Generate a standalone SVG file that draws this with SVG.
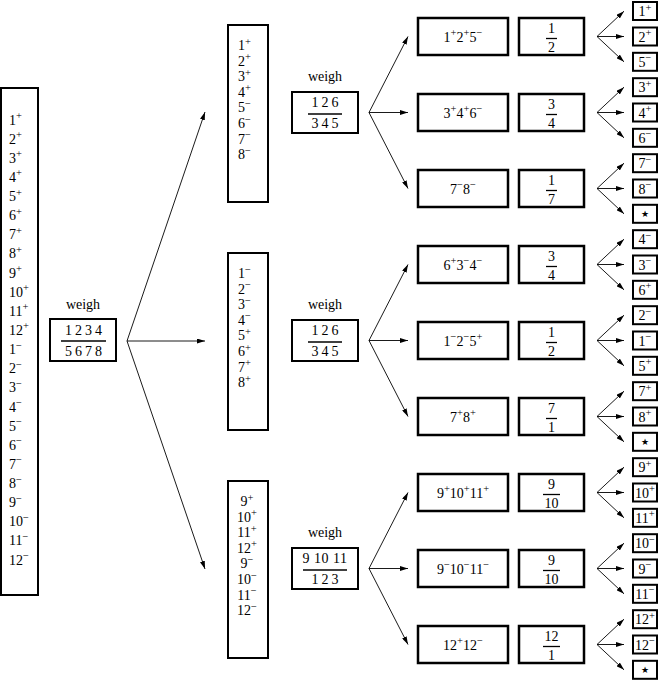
<svg xmlns="http://www.w3.org/2000/svg" width="661" height="683" viewBox="0 0 661 683" font-family="'Liberation Serif', serif">
<defs>
<marker id="ah" markerWidth="8" markerHeight="5" refX="8" refY="2.5" orient="auto" markerUnits="userSpaceOnUse"><path d="M0,0 L8,2.5 L0,5 z" fill="#000"/></marker>
</defs>
<style>
text{font-family:'Liberation Serif','Times New Roman',serif;font-size:14px;fill:#000}
.s{font-size:10.5px}
.c{text-anchor:middle}
.box{fill:#fff;stroke:#000;stroke-width:2}
.bx{fill:#fff;stroke:#000;stroke-width:2.5}
.fl{stroke:#000;stroke-width:1.3}
.star{font-family:'DejaVu Sans',sans-serif;font-size:9px}
.sp{letter-spacing:3px}
</style>
<rect width="661" height="683" fill="#fff"/>
<g id="connectors" fill="none" stroke="#000" stroke-width="0.9">
<line x1="127" y1="341" x2="205" y2="112" marker-end="url(#ah)"/>
<line x1="127" y1="341" x2="205" y2="341" marker-end="url(#ah)"/>
<line x1="127" y1="341" x2="205" y2="569" marker-end="url(#ah)"/>
<line x1="369" y1="112.5" x2="408" y2="36.5" marker-end="url(#ah)"/>
<line x1="369" y1="112.5" x2="408" y2="112.5" marker-end="url(#ah)"/>
<line x1="369" y1="112.5" x2="408" y2="188.5" marker-end="url(#ah)"/>
<line x1="369" y1="340.5" x2="408" y2="264.5" marker-end="url(#ah)"/>
<line x1="369" y1="340.5" x2="408" y2="340.5" marker-end="url(#ah)"/>
<line x1="369" y1="340.5" x2="408" y2="416.5" marker-end="url(#ah)"/>
<line x1="369" y1="568.5" x2="408" y2="492.5" marker-end="url(#ah)"/>
<line x1="369" y1="568.5" x2="408" y2="568.5" marker-end="url(#ah)"/>
<line x1="369" y1="568.5" x2="408" y2="644.5" marker-end="url(#ah)"/>
<line x1="597" y1="36.5" x2="624" y2="11.2" marker-end="url(#ah)"/><line x1="597" y1="36.5" x2="624" y2="36.5" marker-end="url(#ah)"/><line x1="597" y1="36.5" x2="624" y2="61.8" marker-end="url(#ah)"/>
<line x1="597" y1="112.5" x2="624" y2="87.2" marker-end="url(#ah)"/><line x1="597" y1="112.5" x2="624" y2="112.5" marker-end="url(#ah)"/><line x1="597" y1="112.5" x2="624" y2="137.8" marker-end="url(#ah)"/>
<line x1="597" y1="188.5" x2="624" y2="163.2" marker-end="url(#ah)"/><line x1="597" y1="188.5" x2="624" y2="188.5" marker-end="url(#ah)"/><line x1="597" y1="188.5" x2="624" y2="213.8" marker-end="url(#ah)"/>
<line x1="597" y1="264.5" x2="624" y2="239.2" marker-end="url(#ah)"/><line x1="597" y1="264.5" x2="624" y2="264.5" marker-end="url(#ah)"/><line x1="597" y1="264.5" x2="624" y2="289.8" marker-end="url(#ah)"/>
<line x1="597" y1="340.5" x2="624" y2="315.2" marker-end="url(#ah)"/><line x1="597" y1="340.5" x2="624" y2="340.5" marker-end="url(#ah)"/><line x1="597" y1="340.5" x2="624" y2="365.8" marker-end="url(#ah)"/>
<line x1="597" y1="416.5" x2="624" y2="391.2" marker-end="url(#ah)"/><line x1="597" y1="416.5" x2="624" y2="416.5" marker-end="url(#ah)"/><line x1="597" y1="416.5" x2="624" y2="441.8" marker-end="url(#ah)"/>
<line x1="597" y1="492.5" x2="624" y2="467.2" marker-end="url(#ah)"/><line x1="597" y1="492.5" x2="624" y2="492.5" marker-end="url(#ah)"/><line x1="597" y1="492.5" x2="624" y2="517.8" marker-end="url(#ah)"/>
<line x1="597" y1="568.5" x2="624" y2="543.2" marker-end="url(#ah)"/><line x1="597" y1="568.5" x2="624" y2="568.5" marker-end="url(#ah)"/><line x1="597" y1="568.5" x2="624" y2="593.8" marker-end="url(#ah)"/>
<line x1="597" y1="644.5" x2="624" y2="619.2" marker-end="url(#ah)"/><line x1="597" y1="644.5" x2="624" y2="644.5" marker-end="url(#ah)"/><line x1="597" y1="644.5" x2="624" y2="669.8" marker-end="url(#ah)"/>
</g>
<g id="all12">
<rect class="box" x="1" y="88" width="37" height="507"/>
<text x="9" y="124.5">1<tspan class="s" dy="-5.5">+</tspan></text>
<text x="9" y="143.6">2<tspan class="s" dy="-5.5">+</tspan></text>
<text x="9" y="162.8">3<tspan class="s" dy="-5.5">+</tspan></text>
<text x="9" y="181.9">4<tspan class="s" dy="-5.5">+</tspan></text>
<text x="9" y="201">5<tspan class="s" dy="-5.5">+</tspan></text>
<text x="9" y="220.2">6<tspan class="s" dy="-5.5">+</tspan></text>
<text x="9" y="239.3">7<tspan class="s" dy="-5.5">+</tspan></text>
<text x="9" y="258.4">8<tspan class="s" dy="-5.5">+</tspan></text>
<text x="9" y="277.5">9<tspan class="s" dy="-5.5">+</tspan></text>
<text x="9" y="296.7">10<tspan class="s" dy="-5.5">+</tspan></text>
<text x="9" y="315.8">11<tspan class="s" dy="-5.5">+</tspan></text>
<text x="9" y="334.9">12<tspan class="s" dy="-5.5">+</tspan></text>
<text x="9" y="354.1">1<tspan class="s" dy="-5.5">−</tspan></text>
<text x="9" y="373.2">2<tspan class="s" dy="-5.5">−</tspan></text>
<text x="9" y="392.3">3<tspan class="s" dy="-5.5">−</tspan></text>
<text x="9" y="411.5">4<tspan class="s" dy="-5.5">−</tspan></text>
<text x="9" y="430.6">5<tspan class="s" dy="-5.5">−</tspan></text>
<text x="9" y="449.7">6<tspan class="s" dy="-5.5">−</tspan></text>
<text x="9" y="468.8">7<tspan class="s" dy="-5.5">−</tspan></text>
<text x="9" y="488">8<tspan class="s" dy="-5.5">−</tspan></text>
<text x="9" y="507.1">9<tspan class="s" dy="-5.5">−</tspan></text>
<text x="9" y="526.2">10<tspan class="s" dy="-5.5">−</tspan></text>
<text x="9" y="545.4">11<tspan class="s" dy="-5.5">−</tspan></text>
<text x="9" y="564.5">12<tspan class="s" dy="-5.5">−</tspan></text>
</g>
<g id="weigh1">
<text class="c" x="83" y="309">weigh</text>
<rect class="box" x="50" y="319" width="66" height="42"/>
<text class="c sp" x="85" y="335">1234</text>
<line class="fl" x1="61" y1="341" x2="106" y2="341"/>
<text class="c sp" x="85" y="356">5678</text>
</g>
<g id="set1">
<rect class="box" x="228" y="25" width="40" height="177"/>
<text x="238" y="50">1<tspan class="s" dy="-5.5">+</tspan></text>
<text x="238" y="65.6">2<tspan class="s" dy="-5.5">+</tspan></text>
<text x="238" y="81.2">3<tspan class="s" dy="-5.5">+</tspan></text>
<text x="238" y="96.8">4<tspan class="s" dy="-5.5">+</tspan></text>
<text x="238" y="112.4">5<tspan class="s" dy="-5.5">−</tspan></text>
<text x="238" y="128">6<tspan class="s" dy="-5.5">−</tspan></text>
<text x="238" y="143.6">7<tspan class="s" dy="-5.5">−</tspan></text>
<text x="238" y="159.2">8<tspan class="s" dy="-5.5">−</tspan></text>
</g>
<g id="set2">
<rect class="box" x="228" y="253" width="40" height="177"/>
<text x="238" y="278">1<tspan class="s" dy="-5.5">−</tspan></text>
<text x="238" y="293.6">2<tspan class="s" dy="-5.5">−</tspan></text>
<text x="238" y="309.2">3<tspan class="s" dy="-5.5">−</tspan></text>
<text x="238" y="324.8">4<tspan class="s" dy="-5.5">−</tspan></text>
<text x="238" y="340.4">5<tspan class="s" dy="-5.5">+</tspan></text>
<text x="238" y="356">6<tspan class="s" dy="-5.5">+</tspan></text>
<text x="238" y="371.6">7<tspan class="s" dy="-5.5">+</tspan></text>
<text x="238" y="387.2">8<tspan class="s" dy="-5.5">+</tspan></text>
</g>
<g id="set3">
<rect class="box" x="228" y="481" width="40" height="177"/>
<text class="c" x="247" y="506">9<tspan class="s" dy="-5.5">+</tspan></text>
<text class="c" x="247" y="521.6">10<tspan class="s" dy="-5.5">+</tspan></text>
<text class="c" x="247" y="537.2">11<tspan class="s" dy="-5.5">+</tspan></text>
<text class="c" x="247" y="552.8">12<tspan class="s" dy="-5.5">+</tspan></text>
<text class="c" x="247" y="568.4">9<tspan class="s" dy="-5.5">−</tspan></text>
<text class="c" x="247" y="584">10<tspan class="s" dy="-5.5">−</tspan></text>
<text class="c" x="247" y="599.6">11<tspan class="s" dy="-5.5">−</tspan></text>
<text class="c" x="247" y="615.2">12<tspan class="s" dy="-5.5">−</tspan></text>
</g>
<g id="weigh2">
<text class="c" x="325" y="81">weigh</text>
<rect class="box" x="292" y="92" width="66" height="41"/>
<text class="c sp" x="326.5" y="107">126</text>
<line class="fl" x1="308" y1="114" x2="342" y2="114"/>
<text class="c sp" x="326.5" y="128">345</text>
</g>
<g id="weigh3">
<text class="c" x="325" y="309">weigh</text>
<rect class="box" x="292" y="320" width="66" height="41"/>
<text class="c sp" x="326.5" y="335">126</text>
<line class="fl" x1="308" y1="342" x2="342" y2="342"/>
<text class="c sp" x="326.5" y="356">345</text>
</g>
<g id="weigh4">
<text class="c" x="325" y="537">weigh</text>
<rect class="box" x="292" y="548" width="66" height="41"/>
<text class="c" x="325" y="563" letter-spacing="0.5">9 10 11</text>
<line class="fl" x1="303" y1="570" x2="347" y2="570"/>
<text class="c sp" x="326.5" y="584">123</text>
</g>
<g id="c0"><rect class="bx" x="418" y="18" width="90" height="37"/><text class="c" x="463" y="41.5">1<tspan class="s" dy="-5.5">+</tspan><tspan dy="5.5">2</tspan><tspan class="s" dy="-5.5">+</tspan><tspan dy="5.5">5</tspan><tspan class="s" dy="-5.5">−</tspan></text></g>
<g id="f0"><rect class="bx" x="519" y="18" width="65" height="37"/><text class="c" x="551.5" y="33">1</text><line class="fl" x1="546" y1="38.5" x2="557" y2="38.5"/><text class="c" x="551.5" y="52">2</text></g>
<g id="c1"><rect class="bx" x="418" y="94" width="90" height="37"/><text class="c" x="463" y="117.5">3<tspan class="s" dy="-5.5">+</tspan><tspan dy="5.5">4</tspan><tspan class="s" dy="-5.5">+</tspan><tspan dy="5.5">6</tspan><tspan class="s" dy="-5.5">−</tspan></text></g>
<g id="f1"><rect class="bx" x="519" y="94" width="65" height="37"/><text class="c" x="551.5" y="109">3</text><line class="fl" x1="546" y1="114.5" x2="557" y2="114.5"/><text class="c" x="551.5" y="128">4</text></g>
<g id="c2"><rect class="bx" x="418" y="170" width="90" height="37"/><text class="c" x="463" y="193.5">7<tspan class="s" dy="-5.5">−</tspan><tspan dy="5.5">8</tspan><tspan class="s" dy="-5.5">−</tspan></text></g>
<g id="f2"><rect class="bx" x="519" y="170" width="65" height="37"/><text class="c" x="551.5" y="185">1</text><line class="fl" x1="546" y1="190.5" x2="557" y2="190.5"/><text class="c" x="551.5" y="204">7</text></g>
<g id="c3"><rect class="bx" x="418" y="246" width="90" height="37"/><text class="c" x="463" y="269.5">6<tspan class="s" dy="-5.5">+</tspan><tspan dy="5.5">3</tspan><tspan class="s" dy="-5.5">−</tspan><tspan dy="5.5">4</tspan><tspan class="s" dy="-5.5">−</tspan></text></g>
<g id="f3"><rect class="bx" x="519" y="246" width="65" height="37"/><text class="c" x="551.5" y="261">3</text><line class="fl" x1="546" y1="266.5" x2="557" y2="266.5"/><text class="c" x="551.5" y="280">4</text></g>
<g id="c4"><rect class="bx" x="418" y="322" width="90" height="37"/><text class="c" x="463" y="345.5">1<tspan class="s" dy="-5.5">−</tspan><tspan dy="5.5">2</tspan><tspan class="s" dy="-5.5">−</tspan><tspan dy="5.5">5</tspan><tspan class="s" dy="-5.5">+</tspan></text></g>
<g id="f4"><rect class="bx" x="519" y="322" width="65" height="37"/><text class="c" x="551.5" y="337">1</text><line class="fl" x1="546" y1="342.5" x2="557" y2="342.5"/><text class="c" x="551.5" y="356">2</text></g>
<g id="c5"><rect class="bx" x="418" y="398" width="90" height="37"/><text class="c" x="463" y="421.5">7<tspan class="s" dy="-5.5">+</tspan><tspan dy="5.5">8</tspan><tspan class="s" dy="-5.5">+</tspan></text></g>
<g id="f5"><rect class="bx" x="519" y="398" width="65" height="37"/><text class="c" x="551.5" y="413">7</text><line class="fl" x1="546" y1="418.5" x2="557" y2="418.5"/><text class="c" x="551.5" y="432">1</text></g>
<g id="c6"><rect class="bx" x="418" y="474" width="90" height="37"/><text class="c" x="463" y="497.5">9<tspan class="s" dy="-5.5">+</tspan><tspan dy="5.5">10</tspan><tspan class="s" dy="-5.5">+</tspan><tspan dy="5.5">11</tspan><tspan class="s" dy="-5.5">+</tspan></text></g>
<g id="f6"><rect class="bx" x="519" y="474" width="65" height="37"/><text class="c" x="551.5" y="489">9</text><line class="fl" x1="543" y1="494.5" x2="560" y2="494.5"/><text class="c" x="551.5" y="508">10</text></g>
<g id="c7"><rect class="bx" x="418" y="550" width="90" height="37"/><text class="c" x="463" y="573.5">9<tspan class="s" dy="-5.5">−</tspan><tspan dy="5.5">10</tspan><tspan class="s" dy="-5.5">−</tspan><tspan dy="5.5">11</tspan><tspan class="s" dy="-5.5">−</tspan></text></g>
<g id="f7"><rect class="bx" x="519" y="550" width="65" height="37"/><text class="c" x="551.5" y="565">9</text><line class="fl" x1="543" y1="570.5" x2="560" y2="570.5"/><text class="c" x="551.5" y="584">10</text></g>
<g id="c8"><rect class="bx" x="418" y="626" width="90" height="37"/><text class="c" x="463" y="649.5">12<tspan class="s" dy="-5.5">+</tspan><tspan dy="5.5">12</tspan><tspan class="s" dy="-5.5">−</tspan></text></g>
<g id="f8"><rect class="bx" x="519" y="626" width="65" height="37"/><text class="c" x="551.5" y="641">12</text><line class="fl" x1="543" y1="646.5" x2="560" y2="646.5"/><text class="c" x="551.5" y="660">1</text></g>
<g id="outcomes">
<g id="o0"><rect class="box" x="633" y="2" width="24" height="18"/><text class="c" x="645" y="16">1<tspan class="s" dy="-5.5">+</tspan></text></g>
<g id="o1"><rect class="box" x="633" y="27.5" width="24" height="18"/><text class="c" x="645" y="41.5">2<tspan class="s" dy="-5.5">+</tspan></text></g>
<g id="o2"><rect class="box" x="633" y="52.8" width="24" height="18"/><text class="c" x="645" y="66.8">5<tspan class="s" dy="-5.5">−</tspan></text></g>
<g id="o3"><rect class="box" x="633" y="78.2" width="24" height="18"/><text class="c" x="645" y="92.2">3<tspan class="s" dy="-5.5">+</tspan></text></g>
<g id="o4"><rect class="box" x="633" y="103.5" width="24" height="18"/><text class="c" x="645" y="117.5">4<tspan class="s" dy="-5.5">+</tspan></text></g>
<g id="o5"><rect class="box" x="633" y="128.8" width="24" height="18"/><text class="c" x="645" y="142.8">6<tspan class="s" dy="-5.5">−</tspan></text></g>
<g id="o6"><rect class="box" x="633" y="154.2" width="24" height="18"/><text class="c" x="645" y="168.2">7<tspan class="s" dy="-5.5">−</tspan></text></g>
<g id="o7"><rect class="box" x="633" y="179.5" width="24" height="18"/><text class="c" x="645" y="193.5">8<tspan class="s" dy="-5.5">−</tspan></text></g>
<g id="o8"><rect class="box" x="633" y="204.8" width="24" height="18"/><text class="c star" x="645" y="217">★</text></g>
<g id="o9"><rect class="box" x="633" y="230.2" width="24" height="18"/><text class="c" x="645" y="244.2">4<tspan class="s" dy="-5.5">−</tspan></text></g>
<g id="o10"><rect class="box" x="633" y="255.5" width="24" height="18"/><text class="c" x="645" y="269.5">3<tspan class="s" dy="-5.5">−</tspan></text></g>
<g id="o11"><rect class="box" x="633" y="280.8" width="24" height="18"/><text class="c" x="645" y="294.8">6<tspan class="s" dy="-5.5">+</tspan></text></g>
<g id="o12"><rect class="box" x="633" y="306.2" width="24" height="18"/><text class="c" x="645" y="320.2">2<tspan class="s" dy="-5.5">−</tspan></text></g>
<g id="o13"><rect class="box" x="633" y="331.5" width="24" height="18"/><text class="c" x="645" y="345.5">1<tspan class="s" dy="-5.5">−</tspan></text></g>
<g id="o14"><rect class="box" x="633" y="356.8" width="24" height="18"/><text class="c" x="645" y="370.8">5<tspan class="s" dy="-5.5">+</tspan></text></g>
<g id="o15"><rect class="box" x="633" y="382.2" width="24" height="18"/><text class="c" x="645" y="396.2">7<tspan class="s" dy="-5.5">+</tspan></text></g>
<g id="o16"><rect class="box" x="633" y="407.5" width="24" height="18"/><text class="c" x="645" y="421.5">8<tspan class="s" dy="-5.5">+</tspan></text></g>
<g id="o17"><rect class="box" x="633" y="432.8" width="24" height="18"/><text class="c star" x="645" y="445">★</text></g>
<g id="o18"><rect class="box" x="633" y="458.2" width="24" height="18"/><text class="c" x="645" y="472.2">9<tspan class="s" dy="-5.5">+</tspan></text></g>
<g id="o19"><rect class="box" x="633" y="483.5" width="24" height="18"/><text class="c" x="645" y="497.5">10<tspan class="s" dy="-5.5">+</tspan></text></g>
<g id="o20"><rect class="box" x="633" y="508.8" width="24" height="18"/><text class="c" x="645" y="522.8">11<tspan class="s" dy="-5.5">+</tspan></text></g>
<g id="o21"><rect class="box" x="633" y="534.2" width="24" height="18"/><text class="c" x="645" y="548.2">10<tspan class="s" dy="-5.5">−</tspan></text></g>
<g id="o22"><rect class="box" x="633" y="559.5" width="24" height="18"/><text class="c" x="645" y="573.5">9<tspan class="s" dy="-5.5">−</tspan></text></g>
<g id="o23"><rect class="box" x="633" y="584.8" width="24" height="18"/><text class="c" x="645" y="598.8">11<tspan class="s" dy="-5.5">−</tspan></text></g>
<g id="o24"><rect class="box" x="633" y="610.2" width="24" height="18"/><text class="c" x="645" y="624.2">12<tspan class="s" dy="-5.5">+</tspan></text></g>
<g id="o25"><rect class="box" x="633" y="635.5" width="24" height="18"/><text class="c" x="645" y="649.5">12<tspan class="s" dy="-5.5">−</tspan></text></g>
<g id="o26"><rect class="box" x="633" y="660.8" width="24" height="18"/><text class="c star" x="645" y="673">★</text></g>
</g>
</svg>
